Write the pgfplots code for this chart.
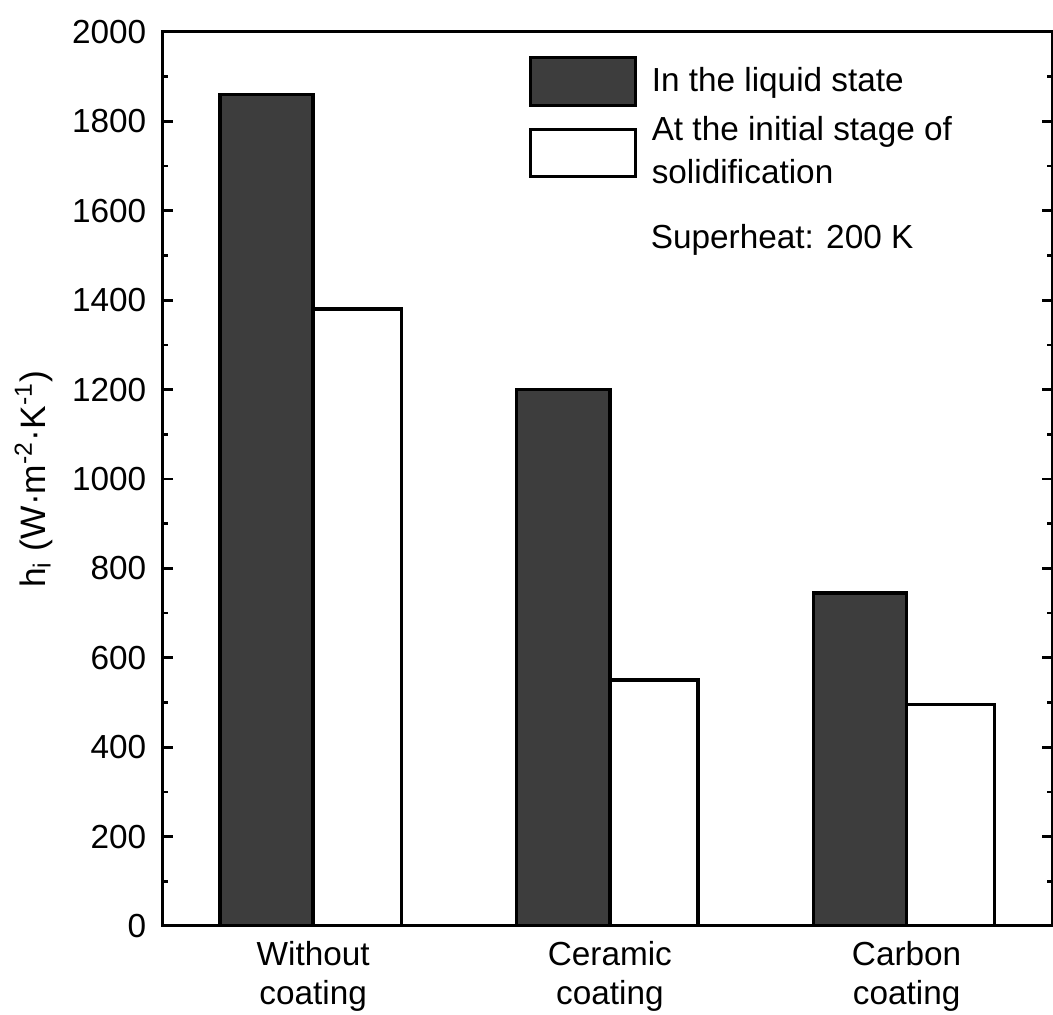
\documentclass[border=0pt]{standalone}
\usepackage{pgfplots}
\pgfplotsset{compat=1.18}
\usepackage{fontspec}
\setmainfont{Liberation Sans}
\begin{document}
\fontsize{10}{12}\selectfont
\begin{tikzpicture}
\begin{axis}[
  scale only axis,
  width=266.7pt, height=268.2pt,
  xmin=-0.506, xmax=2.49,
  ymin=0, ymax=2000,
  axis line style={line width=0.9pt},
  xtick={0,1,2},
  xticklabels={{Without\\coating},{Ceramic\\coating},{Carbon\\coating}},
  xticklabel style={align=center, font=\fontsize{10}{11.8}\selectfont, yshift=-1pt},
  xtick style={draw=none},
  xticklabel pos=lower,
  ytick={0,200,...,2000},
  minor y tick num=1,
  tick align=inside,
  ytick pos=both,
  yticklabel pos=left,
  major tick length=3pt,
  minor tick length=1.6pt,
  y tick style={line width=0.8pt, black},
  yticklabel style={xshift=-1.5pt, font=\fontsize{10}{12}\selectfont},
  /pgf/number format/assume math mode=true,
  y tick label style={/pgf/number format/1000 sep={}},
  ylabel={h\textsubscript{i} (W·m\textsuperscript{-2}·K\textsuperscript{-1})},
  ylabel style={font=\fontsize{10.6}{12}\selectfont, yshift=-1pt},
  legend style={draw=none, fill=none, at={(rel axis cs:0.40,0.981)}, anchor=north west,
    nodes={align=left, font=\fontsize{10}{12.9}\selectfont, inner sep=1.5pt},
    row sep=1.5pt},
  legend cell align=left,
  legend image code/.code={\draw[#1, line width=0.9pt] (0cm,-0.25cm) rectangle (1.1cm,0.25cm);
    \path[draw=none, fill=none] (1.1cm,0) -- ++(3.5pt,0);},
]
\addplot[ybar, bar width=0.314, bar shift=-0.157, fill=black!76, draw=black, line width=1pt]
  coordinates {(0,1860) (1,1200) (2,745)};
\addlegendentry{In the liquid state}
\addplot[ybar, bar width=0.297, bar shift=0.1485, fill=white, draw=black, line width=1pt]
  coordinates {(0,1380) (1,550) (2,495)};
\addlegendentry{At the initial stage of\\solidification}
\node[anchor=west, inner sep=0pt, font=\fontsize{10}{12}\selectfont] at (rel axis cs:0.548,0.767) {Superheat: 200 K};
\end{axis}
\pgfresetboundingbox
\path (current axis.south west) ++(-48.9pt,-26.7pt) rectangle ([shift={(0.3pt,9.6pt)}]current axis.north east);
\end{tikzpicture}
\end{document}
